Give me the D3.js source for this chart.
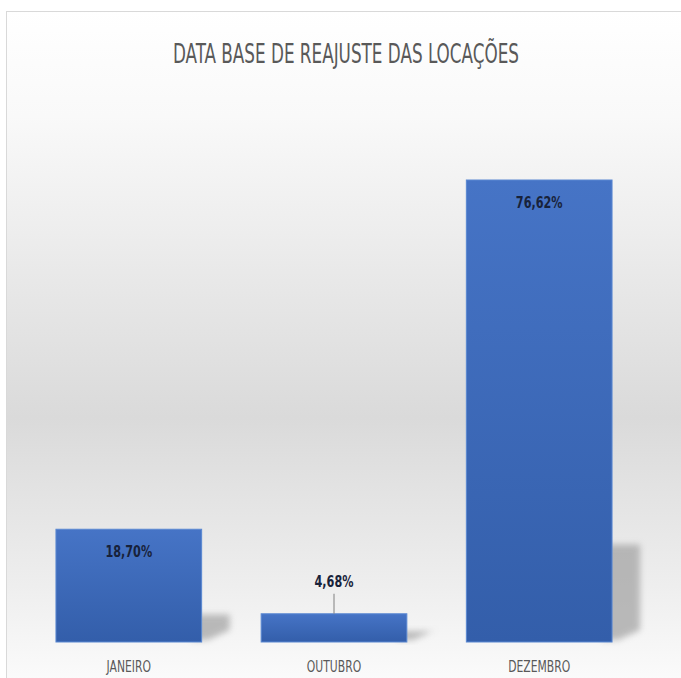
<!DOCTYPE html>
<html>
<head>
<meta charset="utf-8">
<script src="https://cdn.jsdelivr.net/npm/d3@7"></script>
<style>
  body { margin: 0; background: #fff; }
  svg { display: block; }
</style>
</head>
<body>
<script>
// data
var categories = ["JANEIRO", "OUTUBRO", "DEZEMBRO"];
var values = [18.70, 4.68, 76.62];
var valueLabels = ["18,70%", "4,68%", "76,62%"];

var width = 681, height = 678;
var baseline = 642;
var font = "'DejaVu Sans Condensed', 'Liberation Sans Narrow', sans-serif";

var svg = d3.select("body").append("svg")
  .attr("width", width)
  .attr("height", height);

var defs = svg.append("defs");

// chart background gradient
var bg = defs.append("linearGradient")
  .attr("id", "bg").attr("x1", 0).attr("y1", 0).attr("x2", 0).attr("y2", 1);
bg.append("stop").attr("offset", "0%").attr("stop-color", "#ffffff");
bg.append("stop").attr("offset", "15%").attr("stop-color", "#f9f9f9");
bg.append("stop").attr("offset", "58%").attr("stop-color", "#dadada");
bg.append("stop").attr("offset", "82%").attr("stop-color", "#eeeeee");
bg.append("stop").attr("offset", "100%").attr("stop-color", "#ffffff");

// bar gradient
var bar = defs.append("linearGradient")
  .attr("id", "bar").attr("x1", 0).attr("y1", 0).attr("x2", 0).attr("y2", 1);
bar.append("stop").attr("offset", "0%").attr("stop-color", "#4674c6");
bar.append("stop").attr("offset", "100%").attr("stop-color", "#335eaa");

var blur = defs.append("filter").attr("id", "blur")
  .attr("x", "-50%").attr("y", "-50%").attr("width", "200%").attr("height", "200%");
blur.append("feGaussianBlur").attr("stdDeviation", 3);

// squeeze text horizontally so it looks like a condensed face
function narrow(sel, k) {
  sel.each(function() {
    var w = this.getComputedTextLength();
    d3.select(this)
      .attr("textLength", w * k)
      .attr("lengthAdjust", "spacingAndGlyphs");
  });
}

// chart area with frame
svg.append("rect")
  .attr("x", 6.5).attr("y", 11.5)
  .attr("width", 700).attr("height", 700)
  .attr("fill", "url(#bg)")
  .attr("stroke", "#d9d9d9");

// title
svg.append("text")
  .attr("x", 346).attr("y", 63)
  .attr("text-anchor", "middle")
  .attr("font-family", font)
  .attr("font-size", 26)
  .attr("fill", "#595959")
  .attr("textLength", 346)
  .attr("lengthAdjust", "spacingAndGlyphs")
  .text("DATA BASE DE REAJUSTE DAS LOCAÇÕES");

var x = d3.scaleBand()
  .domain(categories)
  .range([26, 642])
  .paddingInner(0.29)
  .paddingOuter(0.146);

var y = d3.scaleLinear()
  .domain([0, 76.62])
  .range([baseline, 180]);

var data = categories.map(function(c, i) {
  return { cat: c, value: values[i], label: valueLabels[i] };
});

// perspective shadows
svg.selectAll(".shadow").data(data)
  .enter().append("path")
  .attr("class", "shadow")
  .attr("fill", "#a0a0a0")
  .attr("opacity", 0.7)
  .attr("filter", "url(#blur)")
  .attr("d", function(d) {
    var x0 = x(d.cat), w = x.bandwidth();
    var h = baseline - y(d.value);
    var top = baseline - h * 0.2 - 5;
    var r = x0 + w;
    return "M" + (r - 10) + "," + top +
      "L" + (r + 28) + "," + top +
      "L" + (r + 28) + "," + (baseline - 12) +
      "L" + (r + 6) + "," + (baseline - 2) +
      "L" + (r - 10) + "," + (baseline - 2) + "Z";
  });

// bars
svg.selectAll(".bar").data(data)
  .enter().append("rect")
  .attr("class", "bar")
  .attr("x", function(d) { return x(d.cat); })
  .attr("y", function(d) { return y(d.value); })
  .attr("width", x.bandwidth())
  .attr("height", function(d) { return baseline - y(d.value); })
  .attr("fill", "url(#bar)")
  .attr("stroke", "#5a88d2")
  .attr("stroke-width", 1);

// value labels (small bar gets label above with leader line)
data.forEach(function(d) {
  var cx = x(d.cat) + x.bandwidth() / 2;
  var h = baseline - y(d.value);
  var ly;
  if (h < 40) {
    ly = y(d.value) - 27;
    svg.append("line")
      .attr("x1", cx).attr("x2", cx)
      .attr("y1", ly + 7).attr("y2", y(d.value))
      .attr("stroke", "#808080").attr("stroke-width", 1);
  } else {
    ly = y(d.value) + 28;
  }
  svg.append("text")
    .attr("x", cx).attr("y", ly)
    .attr("text-anchor", "middle")
    .attr("font-family", font)
    .attr("font-weight", "bold")
    .attr("font-size", 16)
    .attr("fill", "#18223a")
    .text(d.label)
    .call(narrow, 0.78);
});

// category axis labels
svg.append("g")
  .attr("transform", "translate(0," + baseline + ")")
  .call(d3.axisBottom(x).tickSize(0).tickPadding(19))
  .call(function(g) { g.select(".domain").remove(); })
  .selectAll("text")
  .attr("font-family", font)
  .attr("font-size", 15)
  .attr("fill", "#595959")
  .call(narrow, 0.8);
</script>
</body>
</html>
